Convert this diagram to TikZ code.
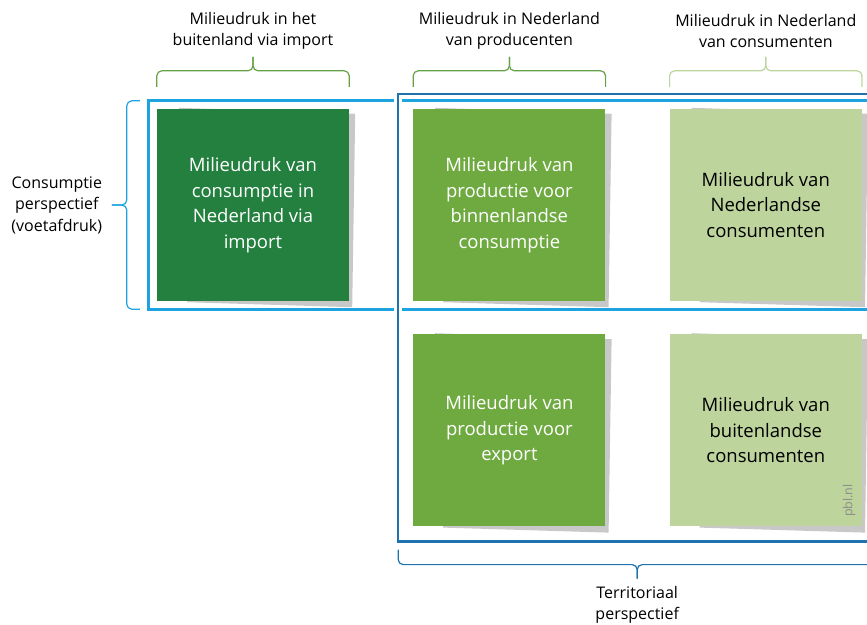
\documentclass[tikz,border=0pt]{standalone}
\usepackage{fontspec}
\setmainfont{Open Sans}
\usetikzlibrary{positioning,backgrounds}
\definecolor{darkgreen}{HTML}{23803F}
\definecolor{midgreen}{HTML}{6FAA41}
\definecolor{lightgreen}{HTML}{BED49D}
\definecolor{bracegreen}{HTML}{64A247}
\definecolor{consblue}{HTML}{1CA3E0}
\definecolor{terrblue}{HTML}{1E73AE}
\definecolor{shadowgrey}{HTML}{C8C8C8}
\definecolor{pblgrey}{HTML}{8C8C8C}

\begin{document}
\begin{tikzpicture}[
  x=1pt, y=-1pt,
  tile/.style={minimum size=192pt, inner sep=0pt, align=center, font=\fontsize{18.5}{25.5}\selectfont},
  head/.style={align=center, font=\fontsize{16}{21.5}\selectfont},
  brace/.style={line width=1.2pt, rounded corners=5pt},
  consframe/.style={draw=consblue, line width=3pt},
  terrframe/.style={draw=terrblue, line width=2.5pt},
  pbl/.style={font=\fontsize{12.5}{14}\selectfont, text=pblgrey}
]
\useasboundingbox (0,0) rectangle (867,624);

% vakken
\node[tile, fill=darkgreen, text=white] (A) at (253,205) {Milieudruk van\\consumptie in\\Nederland via\\import};
\node[tile, fill=midgreen, text=white, right=64pt of A] (B) {Milieudruk van\\productie voor\\binnenlandse\\consumptie};
\node[tile, fill=lightgreen, right=64pt of B] (C) {Milieudruk van\\Nederlandse\\consumenten};
\node[tile, fill=midgreen, text=white, below=33pt of B] (D) {Milieudruk van\\productie voor\\export};
\node[tile, fill=lightgreen, below=33pt of C] (E) {Milieudruk van\\buitenlandse\\consumenten};

% schaduw achter de vakken
\begin{scope}[on background layer]
\foreach \b in {A,B,C,D,E} {
  \fill[shadowgrey] ([xshift=22pt,yshift=1pt]\b.north west) -- ([xshift=6pt,yshift=-5pt]\b.north east)
    -- ([xshift=3pt,yshift=-6pt]\b.south east) -- ([xshift=30pt,yshift=-1pt]\b.south west) -- cycle;
}
\end{scope}

% kaders
\draw[consframe] ([xshift=-8pt,yshift=8pt]A.north west) rectangle ([xshift=20pt,yshift=-8pt]C.south east);
\draw[white, line width=8pt] ([xshift=-15pt,yshift=15pt]B.north west) -- ([xshift=-15pt,yshift=-15pt]D.south west);
\draw[terrframe] ([xshift=-15pt,yshift=15pt]B.north west) rectangle ([xshift=20pt,yshift=-15pt]E.south east);

% accolades boven
\foreach \b/\c in {A/bracegreen, B/bracegreen, C/lightgreen} {
  \draw[brace, \c] ([yshift=22pt]\b.north west) |- ([yshift=38pt]\b.north) -- ([yshift=52pt]\b.north);
  \draw[brace, \c] ([yshift=22pt]\b.north east) |- ([yshift=38pt]\b.north) -- ([yshift=52pt]\b.north);
}

% accolade links
\draw[brace, consblue] ([xshift=-17pt,yshift=8pt]A.north west) -| ([xshift=-30pt]A.west) -- ([xshift=-45pt]A.west);
\draw[brace, consblue] ([xshift=-17pt,yshift=-8pt]A.south west) -| ([xshift=-30pt]A.west) -- ([xshift=-45pt]A.west);

% accolade onder
\coordinate (tmid) at ([xshift=224pt]D.south west);
\draw[brace, terrblue] ([xshift=-15pt,yshift=-23pt]D.south west) |- ([yshift=-38pt]tmid) -- ([yshift=-52pt]tmid);
\draw[brace, terrblue] ([xshift=20pt,yshift=-23pt]E.south east) |- ([yshift=-38pt]tmid) -- ([yshift=-52pt]tmid);

% labels
\node[head] (topA) at ([yshift=78pt]A.north) {Milieudruk in het\\buitenland via import};
\node[head] (topB) at ([yshift=78pt]B.north) {Milieudruk in Nederland\\van producenten};
\node[head] (topC) at ([yshift=78pt]C.north) {Milieudruk in Nederland\\van consumenten};
\node[head] (consLabel) at ([xshift=-100pt]A.west) {Consumptie\\perspectief\\(voetafdruk)};
\node[head] (terrLabel) at ([yshift=-78pt]tmid) {Territoriaal\\perspectief};
\node[pbl, rotate=90] (pblLabel) at ([xshift=-13pt,yshift=26pt]E.south east) {pbl.nl};

\end{tikzpicture}
\end{document}
